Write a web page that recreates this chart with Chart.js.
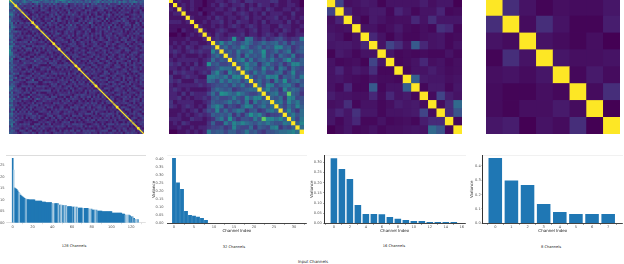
<!DOCTYPE html>
<html><head><meta charset="utf-8">
<style>
html,body{margin:0;padding:0;background:#fff;width:624px;height:264px;overflow:hidden}
canvas{position:absolute;display:block}
.t{position:absolute;font-family:"DejaVu Sans",sans-serif;color:#222;white-space:nowrap;transform:translateX(-50%);line-height:1}
</style>
<script src="https://cdn.jsdelivr.net/npm/chart.js@4"></script>
</head><body>
<canvas id="h1" style="left:9px;top:-1px" width="135" height="135"></canvas>
<canvas id="h2" style="left:169px;top:-1px" width="135" height="135"></canvas>
<canvas id="h3" style="left:327px;top:-1px" width="135" height="135"></canvas>
<canvas id="h4" style="left:486px;top:-1px" width="134" height="135"></canvas>
<canvas id="b1" style="left:0;top:150px" width="148" height="90"></canvas>
<canvas id="b2" style="left:150px;top:150px" width="158" height="90"></canvas>
<canvas id="b3" style="left:309px;top:150px" width="158" height="90"></canvas>
<canvas id="b4" style="left:468px;top:150px" width="156" height="90"></canvas>
<div class="t" style="left:74px;top:245px;font-size:3.6px">128 Channels</div>
<div class="t" style="left:234px;top:246px;font-size:3.6px">32 Channels</div>
<div class="t" style="left:394px;top:245px;font-size:3.6px">16 Channels</div>
<div class="t" style="left:551px;top:246px;font-size:3.6px">8 Channels</div>
<div class="t" style="left:313px;top:260px;font-size:4px">Input Channels</div>
<script>
// Heatmap 1: channel correlation estimated at half resolution (upper triangle, base-36 digit / 20)
const h1Rows=[
"8a577468 46865468 57646487 a9865746 56437564 46773647 64754365 47563546",
"7656468 65477864 56657586 47758665 75646574 66847565 75748576 46687465",
"563745 43424635 34353642 43462335 34363425 46342436 33346243 43624354",
"45342 33353416 32434243 42431334 24342634 33453423 43421434 25343424",
"3425 33413324 24313243 13342432 42351234 21344352 31324142 43223412",
"342 12343314 43214324 23134123 34214342 12434123 42131432 23143241",
"43 31242132 13423341 42315324 21334132 34132413 13314233 42132143",
"2 43123413 32134253 14234353 31423241 24114235 31342431 12343234",
"31242423 13234314 42131332 34212413 13443124 22314133 41232414",
"3144231 24331425 31242332 12413424 34124162 23131443 12343233",
"241342 13225314 42313241 14324234 23431413 12344253 31213142",
"43324 31442342 12314233 43141364 13214231 24331324 42115314",
"2433 14243231 43143624 12423314 31324233 41413124 34142413",
"332 43132143 14324334 31233214 24241326 13433142 23143231",
"41 23413233 43134342 21242431 14233424 23133314 41341424",
"3 41234241 21342431 34214241 13241342 24332413 12314243",
"34213245 31342231 43224313 24341323 41234322 13243412",
"2341432 13324241 32143324 23141243 32413321 42313234",
"413223 42134312 24331423 13243134 22341243 31423213",
"32143 34221341 43123324 21343214 32231434 12343122",
"4123 23341243 12432313 43212343 21343124 33214231",
"234 31223434 12341322 34132143 24312331 42132343",
"31 42312343 31243212 43321341 23124332 14323124",
"4 23134213 43221334 12343213 34212434 31224313",
"22343124 31342132 24313423 12334214 43123243",
"3412313 24231443 31232413 42343122 31344212",
"142334 31243123 42313341 24213342 13423134",
"23143 43212334 13422314 33124231 42331243",
"3124 12343321 24134312 42312433 21434123",
"423 34123142 33412243 13243321 34123142",
"13 42231334 21343124 32141334 23142343",
"4 13342213 43122343 21433124 13342214",
"32413341 24231433 12344213 32143242",
"2134324 31423312 43321243 14233142",
"341232 42331441 23142334 21344312",
"13424 33212434 12343321 42131343",
"4231 23144321 33412342 13224134",
"312 43321243 14233142 34312243",
"24 13243341 22343141 32314234",
"3 41323214 34212433 14323142",
"23143342 13424213 34132243",
"4132123 34231442 31342123",
"231443 21343312 24134321",
"34213 12443231 43212334",
"1342 34123243 13342142",
"423 21344132 33214243",
"31 43212334 24131342",
"2 34132143 32243413",
"43123242 13342314",
"1342334 32141243",
"423121 34323142",
"31443 21342313",
"2314 43123342",
"431 23143214",
"24 13342431",
"3 42132343",
"21343124",
"3421323",
"142334",
"31243",
"4213",
"231",
"34",
"2"];
// Heatmap 1: diagonal channels and the channels where the diagonal looks thicker
const h1Channels=[...Array(128).keys()];
const h1BoldDiagonal=[6,22,26,42,47,63,66,82,102,122];
// Heatmap 2: upper triangle, base-36 digit / 20
const h2Rows=[
"k1211 21101 12212 32133 22223 31121 10",
"k121 21101 21321 22312 13221 21122 10",
"k21 21011 12212 31213 22132 11221 21",
"k1 11201 21122 12321 21312 22113 11",
"k 21112 13212 21231 22122 31212 12",
"k1121 22312 13221 21312 22131 21",
"k211 21212 32123 21221 13221 12",
"k21 12321 12212 31221 21321 21",
"k2 13212 22312 21232 13211 22",
"k 23223 a3287 32423 45323 38",
"k5957 54686 45756 74636 45",
"k574 65974 57465 99563 46",
"k56 48568 56a45 74683 56",
"k5 47385 65946 37548 34",
"k 57948 46758 547a5 46",
"k5696 73685 46359 96",
"k597 54957 38637 54",
"k64 85744 67359 45",
"k7 46598 93657 48",
"k 57463 85a46 75",
"k7498 46785 36",
"k695 63957 64",
"k57 845f6 53",
"k6 57398 45",
"k 78496 85",
"k6475 96",
"k595 37",
"k68 57",
"k7 48",
"k 69",
"k7",
"k"];
// Heatmap 3: upper triangle, percent
const h3Rows=[
[100,20,4,5,7,6,1,5,5,5,5,8,4,6,6,0],
[100,10,4,5,7,7,2,10,6,2,5,5,10,2,3],
[100,5,1,7,5,3,4,4,11,5,13,6,6,6],
[100,5,5,2,4,7,3,2,4,2,14,11,2],
[100,11,5,1,5,2,2,4,5,6,2,3],
[100,5,20,13,5,28,11,5,6,2,5],
[100,6,2,3,2,3,2,2,5,2],
[100,2,3,5,11,4,5,2,4],
[100,2,5,5,8,5,3,4],
[100,30,7,6,6,4,5],
[100,2,7,7,2,6],
[100,3,20,8,5],
[100,3,12,34],
[100,12,26],
[100,2],
[100]];
// Heatmap 4: upper triangle, percent
const h4Rows=[
[100,13,5,1,4,3,3,6],
[100,3,13,5,1,1,8],
[100,5,3,1,4,0],
[100,6,4,4,5],
[100,2,7,3],
[100,3,13],
[100,0],
[100]];
// Bar charts
const b1Values=[.280,.229,.152,.148,.145,.139,.132,.128,.120,.116,.112,.109,.106,.103,.103,.101,.101,
.099,.099,.099,.099,.099,.099,.094,.094,.094,.094,.094,.094,.094,.090,.090,.090,.090,
.087,.087,.087,.087,.087,.087,.083,.083,.083,.083,.083,.083,.083,.077,.077,.077,.077,
.074,.074,.074,.074,.070,.070,.070,.070,.070,.068,.068,.068,.068,.068,.068,
.064,.064,.064,.064,.064,.062,.062,.062,.062,.062,.062,.059,.059,.059,.059,
.055,.055,.055,.055,.055,.051,.051,.051,.051,.051,
.048,.048,.048,.048,.048,.048,.048,.048,.048,.048,.042,.042,.042,.042,.042,.042,.042,.042,.042,.042,
.038,.038,.038,.033,.033,.033,.033,.033,.030,.026,.026,.026,.019,.014,.014,.014,.014];
const b1PaleBars=[1,7,14,41,42,47,49,50,53,55,63,64,66,72,78,79,84,115,116,117,122,125,126];
const b1MidBars=[2,6,13,40,46,52,54,61,65,71,77,80,83,85,86,114,118,120,124,127];
const b2Values=[.41,.255,.215,.077,.052,.046,.04,.033,.02,.002,.001,.001,.001,.001,.001,.001,.001,.001,.001,.001,.001,.001,.001,.001,.001,.001,.001,.001,.001,.001,.001,.001];
const b3Values=[.321,.267,.218,.09,.046,.046,.044,.031,.023,.016,.0115,.0115,.0066,.0066,.0066,.0066];
const b4Values=[.456,.298,.267,.135,.079,.065,.065,.065];

const BLUE="#1f77b4",PALE="#a9cbe2",MID="#5fa0cc";
const FONT="'DejaVu Sans',sans-serif";
const VIRIDIS=["#440154","#482475","#414487","#355f8d","#2a788e","#21918c","#22a884","#44bf70","#7ad151","#bddf26","#fde725"];
function viridis(v){
  const p=Math.min(Math.max(v,0),1)*10,i=Math.min(Math.floor(p),9),f=p-i;
  const c=h=>[1,3,5].map(k=>parseInt(h.substr(k,2),16));
  const a=c(VIRIDIS[i]),b=c(VIRIDIS[i+1]);
  return "rgb("+a.map((x,k)=>Math.round(x+(b[k]-x)*f)).join(",")+")";
}
function cellsFromRows(rows,read){
  const out=[];
  rows.forEach((row,i)=>{
    for(let k=0;k<row.length;k++){
      const j=i+k; if(j>=rows.length)break;
      const v=read(row,k);
      out.push({x:j+.5,y:i+.5,v});
      if(j!==i)out.push({x:i+.5,y:j+.5,v});
    }
  });
  return out;
}
const digits=(row,k)=>parseInt(row[k],36)/20;
const percent=(row,k)=>row[k]/100;
const strip=rows=>rows.map(r=>r.replace(/\s/g,""));

function heatmap(id,n,cells,extra,base){
  const sized=(count,over)=>c=>{
    const a=c.chart.chartArea; if(!a)return 1;
    return (a.width/count*over+.4)/Math.SQRT2;
  };
  const sets=(extra||[]).map(e=>({data:e.data,pointStyle:"rect",pointRadius:sized(e.n,e.scale),pointHoverRadius:0,
    pointBackgroundColor:e.color,pointBorderWidth:0,clip:0}));
  sets.push({data:cells,pointStyle:"rect",pointRadius:sized(n,1),pointBorderWidth:0,clip:0,
    pointBackgroundColor:c=>c.raw?viridis(c.raw.v):"#000"});
  document.getElementById(id).style.background=base;
  new Chart(document.getElementById(id),{type:"scatter",data:{datasets:sets},options:{
    responsive:false,animation:false,events:[],
    layout:{padding:0,autoPadding:false},
    plugins:{legend:{display:false},tooltip:{enabled:false}},
    scales:{x:{type:"linear",min:0,max:n,display:false},y:{type:"linear",min:0,max:n,reverse:true,display:false}}
  }});
}
const diag128=h1Channels.map(i=>({x:(i+.5)/2,y:(i+.5)/2}));
const bold128=h1BoldDiagonal.map(i=>({x:(i+.5)/2,y:(i+.5)/2}));
heatmap("h1",64,cellsFromRows(strip(h1Rows),digits),[
  {data:diag128,n:128,scale:1,color:"#fde725"},
  {data:bold128,n:128,scale:2,color:"#fde725"}],"#46307c");
heatmap("h2",32,cellsFromRows(strip(h2Rows),digits),[],"#481a6c");
heatmap("h3",16,cellsFromRows(h3Rows,percent),[],"#481a6c");
heatmap("h4",8,cellsFromRows(h4Rows,percent),[],"#481a6c");

function bars(id,cfg){
  const labels=cfg.values.map((_,i)=>i);
  const tickFont={family:FONT,size:3.6};
  new Chart(document.getElementById(id),{type:"bar",
    data:{labels,datasets:[{data:cfg.values.map((v,i)=>({x:i,y:v})),backgroundColor:cfg.colors||BLUE,
      barPercentage:cfg.bar,categoryPercentage:1,borderWidth:0}]},
    options:{responsive:false,animation:false,events:[],
      layout:{padding:{top:cfg.top,right:cfg.right,left:0,bottom:0},autoPadding:false},
      plugins:{legend:{display:false},tooltip:{enabled:false}},
      scales:{
        x:{type:"linear",position:"bottom",min:cfg.xMin,max:cfg.xMax,offset:false,
          afterFit:s=>{s.height=cfg.below},
          grid:{display:true,drawOnChartArea:false,drawTicks:true,tickLength:1.5,color:cfg.base,lineWidth:.6},
          border:{display:true,color:cfg.base,width:cfg.baseWidth},
          ticks:{includeBounds:false,stepSize:cfg.xStep,font:tickFont,color:"#555",padding:.5,maxRotation:0,autoSkip:false},
          title:{display:!!cfg.xTitle,text:cfg.xTitle,font:{family:FONT,size:4},color:"#222",padding:{top:0,bottom:6.6}}},
        top:{type:"linear",position:"top",min:cfg.xMin,max:cfg.xMax,afterFit:s=>{s.height=0},
          grid:{display:false},ticks:{display:false},
          border:{display:true,color:cfg.topColor,width:cfg.topWidth,dash:cfg.topDash}},
        y:{type:"linear",min:0,max:cfg.yMax,
          afterFit:s=>{s.width=cfg.axisWidth},
          grid:{display:true,drawOnChartArea:false,drawTicks:true,tickLength:cfg.spine?1:0,color:"#333",lineWidth:.6},
          border:{display:cfg.spine,color:"#333",width:1},
          ticks:{includeBounds:false,stepSize:cfg.yStep,font:tickFont,color:"#555",padding:cfg.yPad,
            callback:v=>v.toFixed(cfg.digits)},
          title:{display:!!cfg.yTitle,text:cfg.yTitle,font:{family:FONT,size:4},color:"#222",padding:{top:cfg.titleInset,bottom:0}}}
      }}});
}
bars("b1",{values:b1Values,bar:1,
  colors:b1Values.map((_,i)=>b1PaleBars.includes(i)?PALE:b1MidBars.includes(i)?MID:BLUE),
  xMin:-6.8,xMax:134,xStep:20,yMax:.293,yStep:.05,digits:2,axisWidth:6,top:5.3,right:3,below:17.3,
  base:"#ccc",baseWidth:.6,topColor:"#ddd",topWidth:1,topDash:[],spine:false,yPad:1.5,titleInset:0,xTitle:"",yTitle:""});
bars("b2",{values:b2Values,bar:.96,xMin:-1.75,xMax:33.15,xStep:5,yMax:.424,yStep:.05,digits:2,axisWidth:17,top:5.3,right:1.4,below:16.8,
  base:"#444",baseWidth:1,topColor:"#e8e8e8",topWidth:.6,topDash:[1,2],spine:false,yPad:3.5,titleInset:1.6,xTitle:"Channel Index",yTitle:"Variance"});
bars("b3",{values:b3Values,bar:.82,xMin:-1.2,xMax:16.4,xStep:2,yMax:.335,yStep:.05,digits:2,axisWidth:15.3,top:5.3,right:2,below:16.7,
  base:"#444",baseWidth:1,topColor:"#e8e8e8",topWidth:.6,topDash:[1,2],spine:true,yPad:1.5,titleInset:.6,xTitle:"Channel Index",yTitle:"Variance"});
bars("b4",{values:b4Values,bar:.84,xMin:-.78,xMax:7.9,xStep:1,yMax:.474,yStep:.1,digits:1,axisWidth:14.7,top:5.3,right:1.3,below:16.7,
  base:"#444",baseWidth:1,topColor:"#e8e8e8",topWidth:.6,topDash:[1,2],spine:true,yPad:1,titleInset:1.6,xTitle:"Channel Index",yTitle:"Variance"});
</script>
</body></html>
